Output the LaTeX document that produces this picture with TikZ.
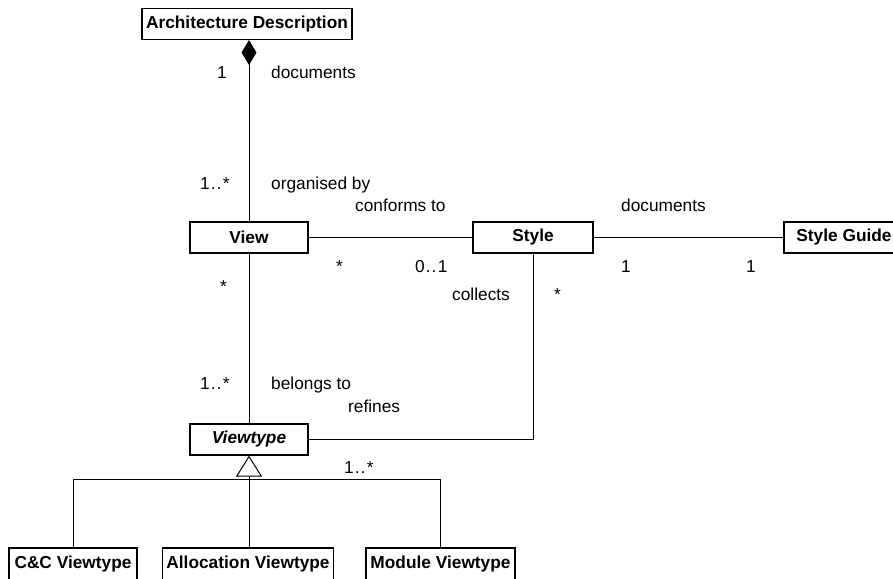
\documentclass[tikz,border=0pt]{standalone}
\usepackage{fontspec}
\setmainfont{Liberation Sans}
\usetikzlibrary{arrows.meta}
% multiplicity range with the wider dot spacing of the drawing
\newcommand\multrange[2]{#1\kern1pt.\kern1pt.\kern1.5pt#2}
\begin{document}
\begin{tikzpicture}[x=1pt,y=-1pt,
  cls/.style={draw, line width=1.1pt, font=\fontsize{17.3}{20}\selectfont\bfseries,
    inner sep=0pt, minimum height=31pt},
  lbl/.style={inner sep=0pt, anchor=west, font=\fontsize{17.3}{20}\selectfont,
    text height=12pt, text depth=3pt},
  assoc/.style={line width=1pt}]
\useasboundingbox (0,0) rectangle (893,578);
\clip (0,0) rectangle (893,578);

% classes
\node[cls, minimum width=210] (ad) at (247,24) {Architecture Description};
\node[cls, minimum width=118] (view) at (249,237.5) {View};
\node[cls, minimum width=120] (style) at (533,237.5) {Style};
\node[cls, minimum width=120] (guide) at (844,237.5) {Style Guide};
\node[cls, minimum width=118] (vt) at (249,439.5) {\itshape Viewtype};
\node[cls, minimum width=128, minimum height=32] (cc) at (73,564) {C\&C Viewtype};
\node[cls, minimum width=171, minimum height=32] (al) at (248,564) {Allocation Viewtype};
\node[cls, minimum width=149, minimum height=32] (mo) at (440.5,564) {Module Viewtype};

% associations
\draw[assoc, {Diamond[length=25pt,width=15pt]}-] (ad.south -| view.north) -- (view.north);
\draw[assoc] (view.east) -- (style.west);
\draw[assoc] (style.east) -- (guide.west);
\draw[assoc] (view.south) -- (vt.north);
\draw[assoc] (style.south) |- (vt.east);

% generalisation
\coordinate (bus) at (249,479);
\draw[assoc, -{Triangle[open,length=21pt,width=26pt]}] (bus) -- (vt.south);
\draw[assoc] (cc.north) -- (cc.north |- bus) -- (mo.north |- bus) -- (mo.north);
\draw[assoc] (bus) -- (bus |- al.north);

% labels
\node[lbl] (l1) at (217,74) {1};
\node[lbl] (l2) at (271,74) {documents};
\node[lbl] (l3) at (200,185) {\multrange{1}{*}};
\node[lbl] (l4) at (271,185) {organised by};
\node[lbl] (l5) at (355,207) {conforms to};
\node[lbl] (l6) at (621,207) {documents};
\node[lbl] (l7) at (336,268) {*};
\node[lbl] (l8) at (415,268) {\multrange{0}{1}};
\node[lbl] (l9) at (621,268) {1};
\node[lbl] (l10) at (746,268) {1};
\node[lbl] (l11) at (452,296) {collects};
\node[lbl] (l12) at (554,296) {*};
\node[lbl] (l13) at (220,288) {*};
\node[lbl] (l14) at (200,385) {\multrange{1}{*}};
\node[lbl] (l15) at (271,385) {belongs to};
\node[lbl] (l16) at (348,408) {refines};
\node[lbl] (l17) at (344,469) {\multrange{1}{*}};
\end{tikzpicture}
\end{document}
